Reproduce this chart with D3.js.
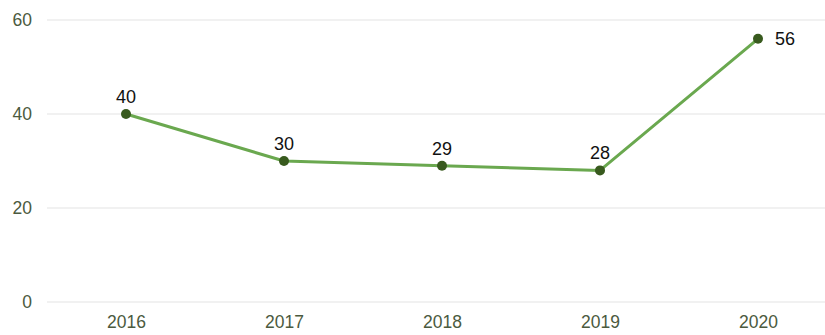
<!DOCTYPE html>
<html>
<head>
<meta charset="utf-8">
<script src="https://cdn.jsdelivr.net/npm/d3@7"></script>
<style>
  html, body { margin: 0; padding: 0; background: #fff; }
  svg { display: block; font-family: Arial, "Liberation Sans", sans-serif; }
</style>
</head>
<body>
<svg id="chart" width="825" height="335"></svg>
<script>
const years = ["2016", "2017", "2018", "2019", "2020"];
const values = [40, 30, 29, 28, 56];
const yTicks = [0, 20, 40, 60];

const svg = d3.select("#chart");
const W = 825, H = 335;
const plot = { left: 47, right: 837, top: 20, bottom: 302 };

const x = d3.scalePoint().domain(years).range([plot.left, plot.right]).padding(0.5);
const y = d3.scaleLinear().domain([0, 60]).range([plot.bottom, plot.top]);

// horizontal gridlines
svg.append("g").selectAll("line").data(yTicks).join("line")
  .attr("x1", plot.left).attr("x2", W)
  .attr("y1", d => y(d)).attr("y2", d => y(d))
  .attr("stroke", "#e3e3e3").attr("stroke-width", 1);

// y-axis labels
const yAxis = d3.axisLeft(y).tickValues(yTicks).tickSize(0).tickPadding(0);
const gy = svg.append("g").attr("transform", "translate(32,0)").call(yAxis);
gy.select(".domain").remove();
gy.selectAll("text").attr("font-size", 17.5).attr("fill", "#4b5a3e")
  .attr("font-family", "Arial, 'Liberation Sans', sans-serif");

// x-axis labels
const xAxis = d3.axisBottom(x).tickSize(0).tickPadding(0);
const gx = svg.append("g").attr("transform", "translate(0,316)").call(xAxis);
gx.select(".domain").remove();
gx.selectAll("text").attr("font-size", 17.5).attr("fill", "#4b5a3e")
  .attr("font-family", "Arial, 'Liberation Sans', sans-serif");

const data = years.map((yr, i) => ({ yr, v: values[i] }));

// line
svg.append("path").datum(data)
  .attr("fill", "none").attr("stroke", "#6aa84f").attr("stroke-width", 3)
  .attr("stroke-linejoin", "round")
  .attr("d", d3.line().x(d => x(d.yr)).y(d => y(d.v)));

// points
svg.append("g").selectAll("circle").data(data).join("circle")
  .attr("cx", d => x(d.yr)).attr("cy", d => y(d.v)).attr("r", 5)
  .attr("fill", "#385a1e");

// value labels
svg.append("g").selectAll("text").data(data).join("text")
  .attr("x", (d, i) => i === data.length - 1 ? x(d.yr) + 17 : x(d.yr))
  .attr("y", (d, i) => i === data.length - 1 ? y(d.v) + 6 : y(d.v) - 11)
  .attr("text-anchor", (d, i) => i === data.length - 1 ? "start" : "middle")
  .attr("font-size", 18).attr("fill", "#111")
  .text(d => d.v);
</script>
</body>
</html>
